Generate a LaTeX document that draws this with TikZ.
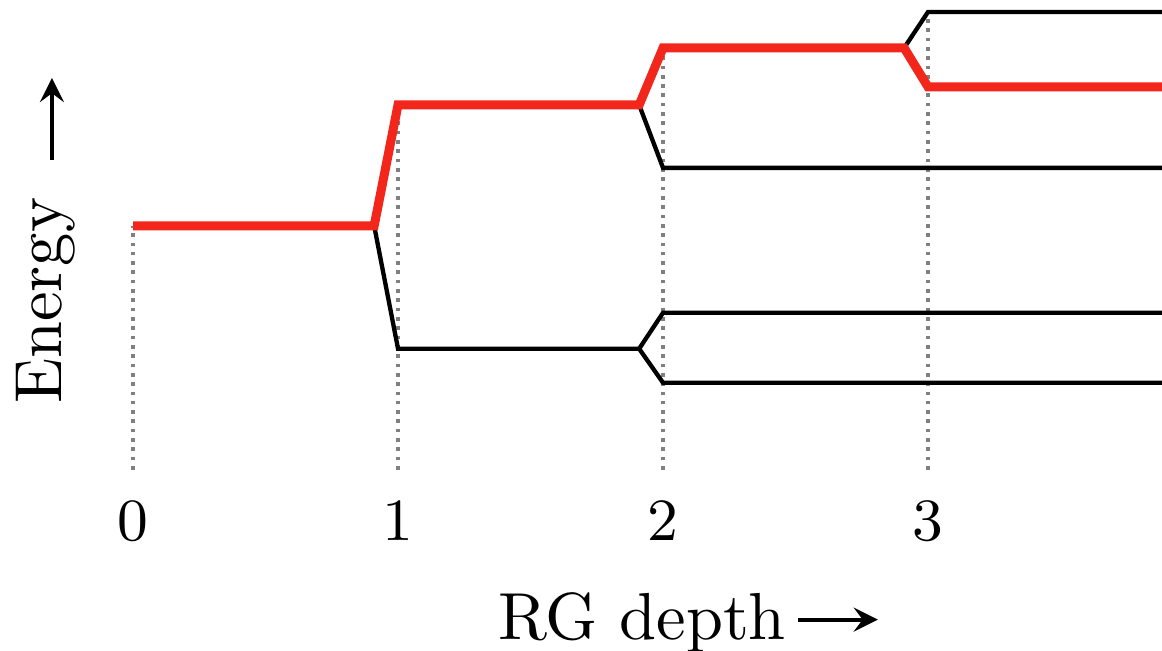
\documentclass[tikz,border=0pt]{standalone}
\definecolor{flowred}{RGB}{242,38,26}
\begin{document}
\begin{tikzpicture}[x=1.4cm, y=0.528cm, line join=miter, >=stealth]
    \def\xl{-0.502} \def\xr{3.883} \def\yb{-1.81} \def\yt{4.70}
    \tikzset{level/.style={black, line width=0.65pt},
             flow/.style={flowred, line width=1.35pt},
             guide/.style={gray, line width=0.55pt, dash pattern=on 0.55pt off 0.85pt}}
    \useasboundingbox (\xl,\yb) rectangle (\xr,\yt);
    % guide lines under each RG step
    \foreach \k/\top in {0/2.44, 1/3.65, 2/4.22, 3/4.58}
        \draw[guide] (\k,0) -- (\k,\top);
    \foreach \k in {0,...,3}
        \node (t\k) at (\k,-0.52) {\small$\k$};
    % split levels
    \draw[level] (0.91,2.44) -- (1,1.21) -- (1.91,1.21);
    \draw[level] (\xr,1.57) -- (2,1.57) -- (1.91,1.21) -- (2,0.87) -- (\xr,0.87);
    \draw[level] (1.91,3.65) -- (2,3.02) -- (\xr,3.02);
    \draw[level] (2.91,4.22) -- (3,4.58) -- (\xr,4.58);
    % followed level
    \draw[flow] (0,2.44) -- (0.91,2.44) -- (1,3.65) -- (1.91,3.65) -- (2,4.22)
        -- (2.91,4.22) -- (3,3.83) -- (\xr,3.83);
    % axis labels
    \node[anchor=base] (xlab) at (1.921,-1.70) {RG depth};
    \node[rotate=90, anchor=base] (ylab) at (-0.268,1.69) {Energy};
    \coordinate (xa0) at (2.509,-1.50); \coordinate (xa1) at (2.811,-1.50);
    \coordinate (ya0) at (-0.306,3.10); \coordinate (ya1) at (-0.306,3.92);
    \draw[->, line width=0.6pt] (xa0) -- (xa1);
    \draw[->, line width=0.6pt] (ya0) -- (ya1);
\end{tikzpicture}
\end{document}
